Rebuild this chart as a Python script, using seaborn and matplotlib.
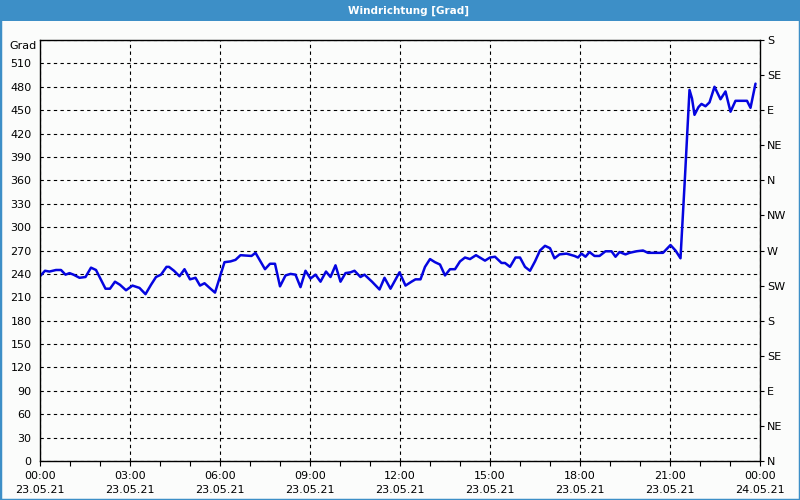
import matplotlib
matplotlib.use("Agg")
import matplotlib.pyplot as plt
import matplotlib.dates as mdates
from matplotlib.patches import Rectangle
import pandas as pd
import seaborn as sns

# ---- data (minutes after 23.05.21 00:00, wind direction in degrees) ----
minutes = [0, 10, 19, 32, 42, 51, 59, 67, 79, 91, 102, 112, 131, 140, 150, 160,
           172, 185, 199, 211, 222, 232, 242, 253, 258, 268, 279, 289, 300, 311,
           320, 329, 341, 350, 369, 381, 391, 401, 423, 431, 450, 460, 470, 480,
           491, 501, 511, 521, 531, 541, 551, 561, 572, 581, 591, 601, 611, 621,
           629, 641, 649, 664, 679, 689, 701, 719, 731, 743, 751, 761, 770, 780,
           790, 800, 810, 820, 830, 840, 850, 860, 872, 890, 900, 910, 923, 930,
           940, 951, 960, 970, 980, 990, 1000, 1010, 1020, 1029, 1039, 1053, 1069,
           1076, 1083, 1091, 1099, 1109, 1119, 1131, 1143, 1151, 1159, 1171, 1179,
           1193, 1206, 1216, 1246, 1261, 1271, 1281, 1290, 1299, 1304, 1309, 1317,
           1323, 1331, 1339, 1349, 1361, 1371, 1381, 1391, 1407, 1414, 1421, 1431]
degrees = [237, 244, 243, 245, 245, 239, 241, 239, 235, 236, 248, 245, 221, 221, 230, 226,
           219, 225, 222, 214, 226, 236, 239, 249, 249, 244, 237, 246, 233, 235,
           225, 228, 221, 216, 255, 256, 258, 264, 263, 267, 246, 253, 253, 224,
           238, 240, 239, 223, 244, 234, 239, 230, 243, 236, 251, 230, 241, 242,
           244, 236, 239, 230, 220, 235, 221, 242, 225, 230, 233, 233, 249, 259,
           255, 252, 238, 246, 246, 256, 261, 259, 264, 257, 261, 262, 254, 254,
           249, 261, 261, 249, 244, 256, 270, 276, 273, 260, 265, 266, 263,
           261, 266, 262, 268, 263, 263, 269, 269, 262, 268, 265, 267,
           269, 270, 267, 267, 277, 270, 260, 365, 476, 465, 444, 454,
           458, 455, 460, 480, 464, 474, 448, 462, 462, 462, 453, 484]

left_ticks = list(range(0, 511, 30))
right_ticks = [0, 45, 90, 135, 180, 225, 270, 315, 360, 405, 450, 495, 540]
right_labels = ["N", "NE", "E", "SE", "S", "SW", "W", "NW", "N", "NE", "E", "SE", "S"]
title = "Windrichtung [Grad]"
unit_label = "Grad"

start = pd.Timestamp("2021-05-23 00:00")
df = pd.DataFrame({"Zeit": start + pd.to_timedelta(minutes, unit="min"),
                   "Grad": degrees})

sns.set_theme(style="white")
plt.rcParams["font.family"] = ["DejaVu Sans"]
bg = "#fbfcfb"
frame_blue = "#3d8fc7"

fig = plt.figure(figsize=(8, 5), dpi=100, facecolor=bg)
ax = fig.add_axes([0.05, 0.078, 0.90, 0.842])
ax.set_facecolor(bg)

sns.lineplot(data=df, x="Zeit", y="Grad", ax=ax, color="#0505e0", linewidth=1.8)

ax.set_xlim(start, start + pd.Timedelta(hours=24))
ax.set_ylim(0, 540)
ax.set_xlabel("")
ax.set_ylabel("")

# x axis
ax.xaxis.set_major_locator(mdates.HourLocator(byhour=range(0, 24, 3)))
ax.xaxis.set_minor_locator(mdates.HourLocator())
ax.xaxis.set_major_formatter(mdates.DateFormatter("%H:%M\n%d.%m.%y"))
ax.tick_params(axis="x", which="both", direction="out", length=3.5, width=0.8,
               color="black", bottom=True, labelsize=8, pad=3.5, labelcolor="black")
for lbl in ax.get_xticklabels():
    lbl.set_linespacing(1.5)

# y axis left
ax.set_yticks(left_ticks + [540])
ax.set_yticklabels([str(v) for v in left_ticks] + [""])
ax.tick_params(axis="y", which="both", length=0, pad=6, labelsize=8, labelcolor="black")

ax.grid(True, which="major", color="black", linestyle=(0, (3, 3)), linewidth=0.8)
for s in ax.spines.values():
    s.set_color("black")
    s.set_linewidth(1.0)
    s.set_visible(True)

# right axis with compass labels
ax2 = ax.twinx()
ax2.set_ylim(0, 540)
ax2.set_yticks(right_ticks)
ax2.set_yticklabels(right_labels)
ax2.tick_params(axis="y", direction="out", length=3, width=0.8, color="black",
                pad=2, labelsize=8, labelcolor="black")
ax2.grid(False)
for s in ax2.spines.values():
    s.set_visible(False)

fig.text(37 / 800, 1 - 46 / 500, unit_label, ha="right", va="center", fontsize=8, color="black")

# window frame and title bar
fig.patches.append(Rectangle((0, 1 - 21 / 500), 1, 21 / 500, transform=fig.transFigure,
                             facecolor=frame_blue, edgecolor="none", zorder=0))
fig.patches.append(Rectangle((0, 0), 1, 1, transform=fig.transFigure, fill=False,
                             edgecolor=frame_blue, linewidth=2.5, zorder=5))
fig.text(409 / 800, 1 - 10.5 / 500, title, ha="center", va="center", fontsize=7.5,
         fontweight="bold", color="white")

fig.savefig("out.png", dpi=100, facecolor=bg)
